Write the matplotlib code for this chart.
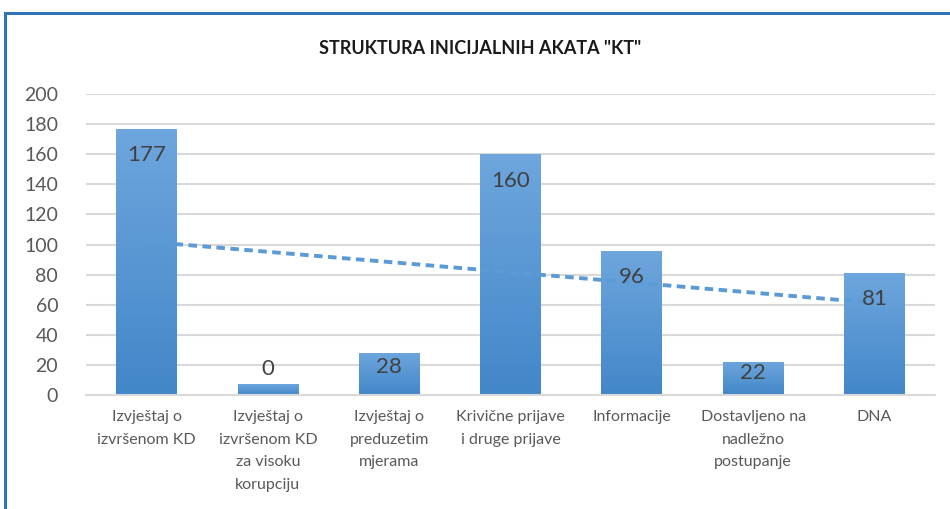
import numpy as np
import matplotlib
matplotlib.use("Agg")
import matplotlib.pyplot as plt
from matplotlib.patches import Rectangle

# chart data
categories = [
    "Izvještaj o\nizvršenom KD",
    "Izvještaj o\nizvršenom KD\nza visoku\nkorupciju",
    "Izvještaj o\npreduzetim\nmjerama",
    "Krivične prijave\ni druge prijave",
    "Informacije",
    "Dostavljeno na\nnadležno\npostupanje",
    "DNA",
]
bar_heights = [177, 7, 28, 160, 96, 22, 81]
bar_labels = ["177", "0", "28", "160", "96", "22", "81"]
y_ticks = [0, 20, 40, 60, 80, 100, 120, 140, 160, 180, 200]

plt.rcParams['font.family'] = ['Lato', 'DejaVu Sans']

gray = "#595959"
grid_c = "#d9d9d9"

fig = plt.figure(figsize=(9.5, 5.09), dpi=100)
ax = fig.add_axes([86 / 950, 1 - 395 / 509, (935 - 86) / 950, (395 - 94) / 509])

x = np.arange(len(categories))
bars = ax.bar(x, bar_heights, width=0.5, color="#5b9bd5", zorder=2)

# vertical gradient on each bar
grad = np.linspace(0, 1, 256).reshape(-1, 1)
cmap = matplotlib.colors.LinearSegmentedColormap.from_list("g", ["#4287c9", "#6ea6dd"])
for b in bars:
    im = ax.imshow(grad, cmap=cmap, origin="lower", aspect="auto",
                   extent=[b.get_x(), b.get_x() + b.get_width(), 0, b.get_height()],
                   zorder=2.1)
    im.set_clip_path(b)

# linear trend line
k, c = np.polyfit(x, bar_heights, 1)
ax.plot(x, k * x + c, linestyle=(0, (2.2, 1.4)), color="#5b9bd5", lw=2.8, zorder=3)

for xi, h, lab in zip(x, bar_heights, bar_labels):
    if h < 15:
        ax.annotate(lab, (xi, h), xytext=(0, 4), textcoords="offset points",
                    ha="center", va="bottom", fontsize=16, color="#404040", zorder=4)
    elif h < 40:
        ax.text(xi, h * 0.67, lab, ha="center", va="center",
                fontsize=16, color="#404040", zorder=4)
    else:
        ax.annotate(lab, (xi, h), xytext=(0, -19), textcoords="offset points",
                    ha="center", va="center", fontsize=16, color="#404040", zorder=4)

ax.set_xlim(-0.5, len(categories) - 0.5)
ax.set_ylim(0, 200)
ax.set_yticks(y_ticks)
ax.set_yticklabels([str(t) for t in y_ticks], fontsize=14, color=gray)
ax.set_xticks(x)
ax.set_xticklabels(categories, fontsize=11.5, color=gray, linespacing=1.78, va="top")
ax.tick_params(axis="both", length=0)
ax.tick_params(axis="x", pad=11)
ax.tick_params(axis="y", pad=20)
ax.grid(axis="y", color=grid_c, lw=1.5, zorder=0)
for s in ["top", "right", "left"]:
    ax.spines[s].set_visible(False)
ax.spines["bottom"].set_color(grid_c)
ax.spines["bottom"].set_linewidth(1.5)

fig.text(0.505, 1 - 48 / 509, 'STRUKTURA INICIJALNIH AKATA "KT"', ha="center", va="center",
         fontsize=13, fontweight="bold", color="#1a1a1a")

# outer chart frame
fig.patches.append(Rectangle((5 / 950, -0.1), 1.2, 1.1 - 13 / 509, transform=fig.transFigure,
                             fill=False, edgecolor="#2e75b6", lw=2.2))

fig.savefig("out.png", dpi=100)
